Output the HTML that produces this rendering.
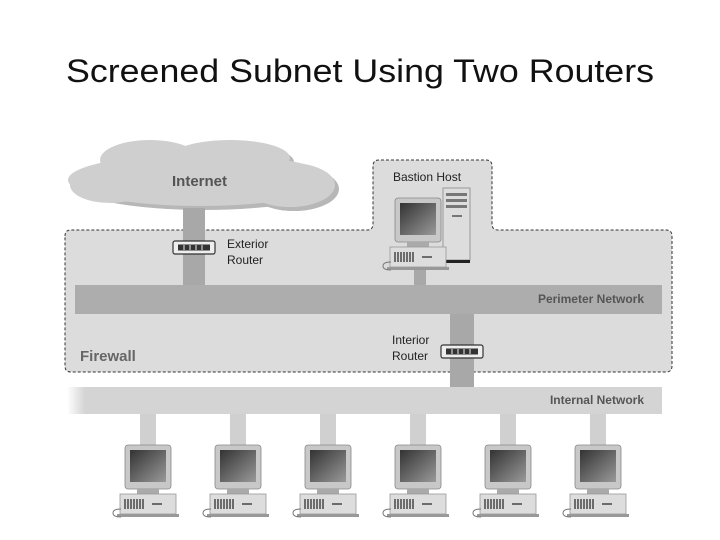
<!DOCTYPE html>
<html><head><style>body{margin:0;background:#fff}svg{display:block}</style></head><body>
<svg width="720" height="540" viewBox="0 0 720 540" xmlns="http://www.w3.org/2000/svg" font-family="Liberation Sans, sans-serif">
<defs>
<linearGradient id="scr" x1="0" y1="0" x2="1" y2="1"><stop offset="0" stop-color="#333"/><stop offset="1" stop-color="#999"/></linearGradient>
<linearGradient id="fade" x1="0" x2="1"><stop offset="0" stop-color="#fff"/><stop offset="0.03" stop-color="#d4d4d4"/><stop offset="1" stop-color="#d4d4d4"/></linearGradient>
<g id="pc">
<rect x="-23" y="0" width="46" height="44" rx="3" fill="#c8c8c8" stroke="#888" stroke-width="0.8"/>
<rect x="-18" y="5" width="36" height="32" fill="url(#scr)"/>
<rect x="-11" y="44" width="22" height="5" fill="#aaa"/>
<rect x="-28" y="49" width="56" height="20" fill="#ddd" stroke="#999" stroke-width="0.8"/>
<g stroke="#222" stroke-width="1.2"><line x1="-23" y1="54" x2="-23" y2="64"/><line x1="-20" y1="54" x2="-20" y2="64"/><line x1="-17" y1="54" x2="-17" y2="64"/><line x1="-14" y1="54" x2="-14" y2="64"/><line x1="-11" y1="54" x2="-11" y2="64"/><line x1="-8" y1="54" x2="-8" y2="64"/><line x1="-5" y1="54" x2="-5" y2="64"/><line x1="4" y1="59" x2="14" y2="59"/></g>
<rect x="-31" y="69" width="62" height="3" fill="#999"/>
<path d="M-27 64 q-8 0 -8 4 q0 4 8 4" fill="none" stroke="#777"/>
</g>
<g id="rt"><rect x="0" y="0" width="42" height="13" rx="2" fill="#eee" stroke="#333" stroke-width="1.2"/><rect x="5" y="3.5" width="32" height="6" fill="#333"/><g stroke="#eee" stroke-width="1"><line x1="11" y1="4" x2="11" y2="9"/><line x1="17" y1="4" x2="17" y2="9"/><line x1="23" y1="4" x2="23" y2="9"/><line x1="29" y1="4" x2="29" y2="9"/></g></g>
</defs>
<text x="360" y="82" font-size="32" text-anchor="middle" fill="#111" textLength="588" lengthAdjust="spacingAndGlyphs">Screened Subnet Using Two Routers</text>

<path d="M65 236 q0-6 6-6 H367 q6 0 6-6 V166 q0-6 6-6 H486 q6 0 6 6 V224 q0 6 6 6 H666 q6 0 6 6 V366 q0 6-6 6 H71 q-6 0-6-6 Z" fill="#dcdcdc" stroke="#333" stroke-width="1" stroke-dasharray="3,2"/>
<g fill="#888" opacity="0.6" transform="translate(4,4)"><ellipse cx="200" cy="180" rx="132" ry="26"/><ellipse cx="150" cy="160" rx="50" ry="20"/><ellipse cx="230" cy="158" rx="60" ry="18"/><ellipse cx="290" cy="185" rx="45" ry="22"/></g>
<g fill="#cfcfcf"><ellipse cx="200" cy="180" rx="132" ry="26"/><ellipse cx="150" cy="160" rx="50" ry="20"/><ellipse cx="230" cy="158" rx="60" ry="18"/><ellipse cx="290" cy="185" rx="45" ry="22"/><ellipse cx="110" cy="185" rx="40" ry="18"/></g>
<text x="172" y="186" font-size="15" font-weight="bold" fill="#555">Internet</text>

<rect x="183" y="208" width="22" height="80" fill="#a8a8a8"/>
<rect x="414" y="266" width="12" height="21" fill="#a8a8a8"/>
<rect x="450" y="312" width="24" height="77" fill="#a8a8a8"/>
<rect x="75" y="285" width="587" height="29" fill="#adadad"/>
<text x="644" y="303" font-size="12" font-weight="bold" fill="#555" text-anchor="end">Perimeter Network</text>
<rect x="67" y="387" width="595" height="27" fill="url(#fade)"/>
<text x="644" y="404" font-size="12" font-weight="bold" fill="#555" text-anchor="end">Internal Network</text>

<use href="#rt" x="173" y="241"/>
<use href="#rt" x="441" y="345"/>
<text x="227" y="248" font-size="12" fill="#222">Exterior</text>
<text x="227" y="264" font-size="12" fill="#222">Router</text>
<text x="392" y="344" font-size="12" fill="#222">Interior</text>
<text x="392" y="360" font-size="12" fill="#222">Router</text>
<text x="393" y="181" font-size="12" fill="#222">Bastion Host</text>
<text x="80" y="361" font-size="15" font-weight="bold" fill="#666">Firewall</text>

<rect x="443" y="188" width="27" height="72" fill="#ddd" stroke="#999"/>
<g fill="#777"><rect x="446" y="193" width="21" height="3"/><rect x="446" y="199" width="21" height="3"/><rect x="446" y="205" width="21" height="3"/><rect x="452" y="215" width="10" height="2"/></g>
<rect x="445" y="260" width="25" height="3" fill="#222"/>
<use href="#pc" x="418" y="198"/>

<g fill="#d0d0d0"><rect x="140" y="414" width="16" height="33"/><rect x="230" y="414" width="16" height="33"/><rect x="320" y="414" width="16" height="33"/><rect x="410" y="414" width="16" height="33"/><rect x="500" y="414" width="16" height="33"/><rect x="590" y="414" width="16" height="33"/></g>
<use href="#pc" x="148" y="445"/><use href="#pc" x="238" y="445"/><use href="#pc" x="328" y="445"/><use href="#pc" x="418" y="445"/><use href="#pc" x="508" y="445"/><use href="#pc" x="598" y="445"/>
</svg>
</body></html>
